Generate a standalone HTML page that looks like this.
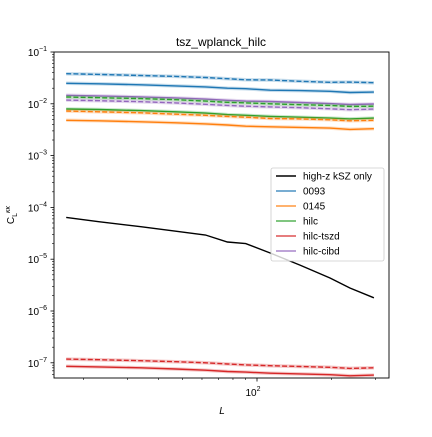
<!DOCTYPE html>
<html><head><meta charset="utf-8"><style>
body{margin:0;background:#fff}
svg{font-family:"Liberation Sans","DejaVu Sans",sans-serif}
</style></head><body>
<svg id="c" width="432" height="432" viewBox="0 0 432 432" xmlns="http://www.w3.org/2000/svg">
<rect width="432" height="432" fill="#fff"/>
<text x="221" y="46" text-anchor="middle" font-size="12">tsz_wplanck_hilc</text>
<g id="plot"></g>
<rect x="54" y="52" width="335" height="326" fill="none" stroke="#000" stroke-width="0.9"/>
<text x="222" y="414" text-anchor="middle" font-size="10" font-style="italic">L</text>
<text transform="translate(14,215) rotate(-90)" text-anchor="middle" font-size="10">C<tspan font-size="7" dy="3">L</tspan><tspan font-size="7" dy="-7" font-style="italic">κκ</tspan></text>
<g id="legend">
<rect x="271" y="168" width="113" height="93" rx="2" fill="#fff" fill-opacity="0.8" stroke="#ccc" stroke-width="0.8"/>
</g>
</svg>
<script>
const Ls=[17,23,34,47,62,76,90,113,149,197,237,296];
const kszOnly=[6.4e-5,5.3e-5,4.24e-5,3.47e-5,2.93e-5,2.15e-5,2.0e-5,1.32e-5,7.7e-6,4.33e-6,2.78e-6,1.8e-6];
const s0093=[0.0249,0.0243,0.0233,0.0222,0.0212,0.0200,0.0196,0.0183,0.0180,0.0174,0.0165,0.0168];
const s0093d=[0.0381,0.0370,0.0352,0.0338,0.0322,0.0305,0.0290,0.0288,0.0272,0.0260,0.0262,0.0255];
const s0145=[0.00481,0.0047,0.0045,0.0043,0.0041,0.0039,0.0037,0.0036,0.0035,0.0034,0.0032,0.0033];
const s0145d=[0.00726,0.0070,0.0067,0.0063,0.0060,0.0057,0.0055,0.0052,0.0051,0.0049,0.0047,0.0048];
const hilc=[0.00794,0.00775,0.0074,0.0070,0.0066,0.0062,0.0060,0.0057,0.0055,0.0053,0.0051,0.0053];
const hilcd=[0.0135,0.0131,0.0126,0.0120,0.0113,0.0107,0.0104,0.0100,0.0096,0.0093,0.0089,0.0090];
const tszd=[8.55e-8,8.35e-8,8.0e-8,7.6e-8,7.2e-8,6.8e-8,6.6e-8,6.3e-8,6.1e-8,5.9e-8,5.6e-8,5.8e-8];
const tszdd=[1.18e-7,1.15e-7,1.10e-7,1.05e-7,1.0e-7,9.5e-8,9.1e-8,8.8e-8,8.5e-8,8.2e-8,7.8e-8,8.0e-8];
const cibd=[0.0146,0.0142,0.0136,0.0130,0.0123,0.0117,0.0113,0.0111,0.0106,0.0101,0.0097,0.0099];
const cibdd=[0.0118,0.0115,0.0110,0.0104,0.0098,0.0093,0.0090,0.0087,0.0084,0.0080,0.0077,0.0079];
const yDecades=[-1,-2,-3,-4,-5,-6,-7];
const xMinorTicks=[20,30,40,50,60,70,80,90,200,300];
const legendLabels=["high-z kSZ only","0093","0145","hilc","hilc-tszd","hilc-cibd"];
const legendColors=["#000000","#1f77b4","#ff7f0e","#2ca02c","#d62728","#9467bd"];

const NS="http://www.w3.org/2000/svg";
const X=L=>257+248*(Math.log10(L)-2);
const Y=v=>52+51.8*(-1-Math.log10(v));
const plot=document.getElementById('plot');
const svg=document.getElementById('c');
function mk(t,a,p){const e=document.createElementNS(NS,t);for(const k in a)e.setAttribute(k,a[k]);(p||svg).appendChild(e);return e;}

// y ticks
yDecades.forEach(d=>{
  const y=Y(Math.pow(10,d));
  const t=mk('line',{x1:50.5,x2:54,y1:y,y2:y,stroke:'#000','stroke-width':0.8});
  
  
  const tx=mk('text',{x:47,y:y+4,'text-anchor':'end','font-size':10});
  
  
  tx.innerHTML='10<tspan font-size="7" dy="-5">−'+(-d)+'</tspan>';
});
for(let d=-8;d<=-2;d++){for(let m=2;m<=9;m++){const v=m*Math.pow(10,d);const y=Y(v);if(y<52||y>378)continue;
  const t=mk('line',{x1:52,x2:54,y1:y,y2:y,stroke:'#000','stroke-width':0.6});
  
  }}
// x ticks
{const x=X(100);
 const t=mk('line',{x1:x,x2:x,y1:378,y2:381.5,stroke:'#000','stroke-width':0.8});
 
 
 const tx=mk('text',{x:x-4,y:396,'text-anchor':'middle','font-size':10});
 
 
 tx.innerHTML='10<tspan font-size="7" dy="-5">2</tspan>';}
xMinorTicks.forEach(L=>{const x=X(L);
 const t=mk('line',{x1:x,x2:x,y1:378,y2:380,stroke:'#000','stroke-width':0.6});
 
 });

const series=[
 [s0093d,'#1f77b4',true,'series-0093-dashed'],[s0093,'#1f77b4',false,'series-0093'],
 [cibd,'#9467bd',false,'series-hilc-cibd'],[hilcd,'#2ca02c',true,'series-hilc-dashed'],
 [cibdd,'#9467bd',true,'series-hilc-cibd-dashed'],[hilc,'#2ca02c',false,'series-hilc'],
 [s0145d,'#ff7f0e',true,'series-0145-dashed'],[s0145,'#ff7f0e',false,'series-0145'],
 [tszdd,'#d62728',true,'series-hilc-tszd-dashed'],[tszd,'#d62728',false,'series-hilc-tszd'],
 [kszOnly,'#000000',false,'series-high-z-ksz-only']];
series.forEach(([vals,col,dash,name])=>{
  const d=vals.map((v,i)=>(i?'L':'M')+X(Ls[i]).toFixed(1)+','+Y(v).toFixed(1)).join(' ');
  if(col!=='#000000'){const h=mk('path',{d:d,fill:'none',stroke:col,'stroke-opacity':0.25,'stroke-width':3.5},plot);
   
   }
  const p=mk('path',{d:d,fill:'none',stroke:col,'stroke-width':1.4},plot);
  if(dash)p.setAttribute('stroke-dasharray','5,2.2');
  
  
});
const lg=document.getElementById('legend');
legendLabels.forEach((lab,i)=>{const y=176+i*15;
  const l=mk('line',{x1:276,x2:296,y1:y,y2:y,stroke:legendColors[i],'stroke-width':1.6,'stroke-opacity':i?0.8:1},lg);
  
  
  const t=mk('text',{x:303,y:y+3.5,'font-size':10},lg);
  t.textContent=lab;
  
  
});
</script>
</body></html>
